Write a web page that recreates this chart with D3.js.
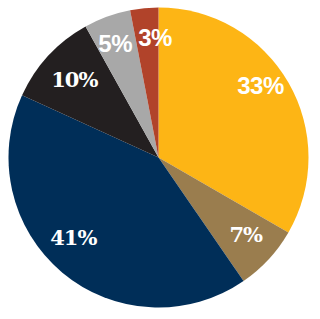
<!DOCTYPE html>
<html>
<head>
<meta charset="utf-8">
<script src="https://cdn.jsdelivr.net/npm/d3@7"></script>
<style>
	html, body { margin: 0; padding: 0; background: #fff; }
	svg { display: block; }
</style>
</head>
<body>
<div id="chart"></div>
<script>
// Slice data, clockwise from 12 o'clock
let labels = ["33%", "7%", "41%", "10%", "5%", "3%"];
let values = [33, 7, 41, 10, 5, 3];
let colours = ["#FDB515", "#9A7D4E", "#002E58", "#231F20", "#A8A8A8", "#B1432A"];
let serifLabel = [false, true, true, true, false, false];

let width = 320,
	height = 319,
	cx = 158.5,
	cy = 157.5,
	radius = 150;

let svg = d3.select("#chart").append("svg")
	.attr("width", width)
	.attr("height", height);

let g = svg.append("g")
	.attr("transform", `translate(${cx}, ${cy})`);

let pie = d3.pie().sort(null).value(d => d.value);
let arcs = pie(values.map((v, i) => ({value: v, label: labels[i], colour: colours[i], serif: serifLabel[i]})));

let arcGen = d3.arc().innerRadius(0).outerRadius(radius);

g.selectAll("path.slice")
	.data(arcs)
	.join("path")
	.attr("class", "slice")
	.attr("d", arcGen)
	.attr("fill", d => d.data.colour);

// label placement: radius and small angular nudge (degrees) off the slice middle
let labelLayout = [[125, -5.3], [116, -1.5], [117, 6.7], [115, 0.2], [122, -0.8], [120, 3.8]];
function labelPos(d, i) {
	let a = (d.startAngle + d.endAngle) / 2 + labelLayout[i][1] * Math.PI / 180;
	let r = labelLayout[i][0];
	return [r * Math.sin(a), -r * Math.cos(a)];
}

g.selectAll("text.lbl")
	.data(arcs)
	.join("text")
	.attr("class", "lbl")
	.attr("transform", (d, i) => `translate(${labelPos(d, i)})`)
	.attr("text-anchor", "middle")
	.attr("dy", "0.36em")
	.attr("fill", "#fff")
	.attr("font-weight", "bold")
	.attr("font-family", d => d.data.serif ? "'DejaVu Serif', serif" : "'Liberation Sans', Arial, sans-serif")
	.attr("font-size", d => d.data.serif ? 21 : 24)
	.attr("letter-spacing", d => d.data.serif ? -1 : -0.5)
	.text(d => d.data.label);
</script>
</body>
</html>
